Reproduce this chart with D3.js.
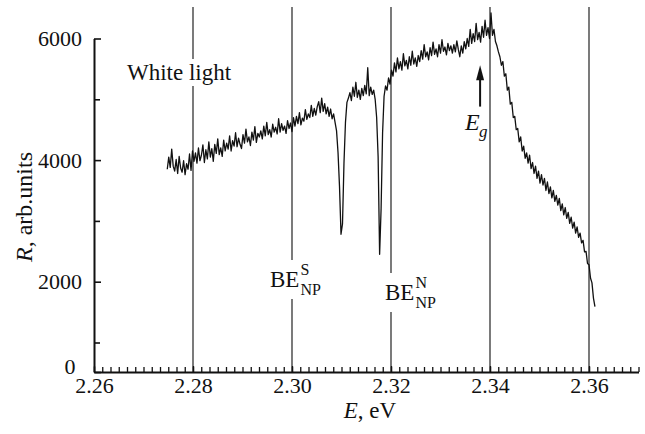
<!DOCTYPE html>
<html>
<head>
<meta charset="utf-8">
<script src="https://cdn.jsdelivr.net/npm/d3@7"></script>
<style>
  body { margin: 0; background: #fff; }
  svg text { font-family: "Liberation Serif", "Times New Roman", Times, "DejaVu Serif", serif !important; fill: #111; }
</style>
</head>
<body>
<svg id="chart" width="645" height="434"></svg>
<script>
// Reflectance spectrum under white light, sampled on a uniform energy grid (eV)
const energyStart = 2.2748;
const energyStep = 0.0003;
const reflectance = [
  3850, 4050, 3880, 4180, 3900, 3820, 4010, 3780, 4060, 3870,
  3800, 3990, 3760, 3940, 3850, 4100, 3830, 4150, 3980, 4120,
  3950, 4200, 3990, 4080, 4250, 3960, 4170, 4020, 4300, 4050,
  4190, 3980, 4260, 4110, 4350, 4090, 4200, 4060, 4330, 4150,
  4280, 4180, 4400, 4150, 4320, 4230, 4450, 4220, 4360, 4260,
  4190, 4420, 4280, 4510, 4300, 4380, 4240, 4460, 4330, 4550,
  4290, 4440, 4380, 4480, 4350, 4560, 4400, 4620, 4420, 4500,
  4380, 4590, 4460, 4540, 4430, 4680, 4460, 4600, 4490, 4560,
  4440, 4650, 4520, 4610, 4470, 4700, 4560, 4720, 4600, 4780,
  4580, 4690, 4640, 4830, 4670, 4760, 4700, 4900, 4720, 4850,
  4740, 4880, 4960, 4780, 5020, 4800, 4930, 4760, 4870, 4720,
  4840, 4680, 4760, 4620, 4480, 4120, 3560, 2780, 2950, 3950,
  4620, 4950, 5020, 5110, 4980, 5200, 5050, 5280, 5030, 5150,
  5000, 5180, 5060, 5230, 5090, 5520, 5060, 5200, 5080, 5150,
  5000, 4700, 4050, 2450, 3200, 4450, 5050, 5220, 5150, 5350,
  5250, 5480, 5380, 5600, 5450, 5680, 5500, 5620, 5480, 5750,
  5550, 5640, 5500, 5700, 5560, 5790, 5580, 5680, 5540, 5720,
  5620, 5800, 5660, 5900, 5700, 5780, 5650, 5850, 5720, 5940,
  5740, 5830, 5700, 5900, 5760, 5980, 5790, 5860, 5730, 5920,
  5800, 5880, 5760, 5900, 5780, 5960, 5820, 5700, 5880, 5760,
  5950, 5830, 6000, 5870, 6150, 5920, 6080, 5950, 6250, 5980,
  6100, 5940, 6200, 6020, 6300, 6050, 6180, 6000, 6420, 6050,
  6150, 5950, 5880, 5780, 5700, 5560, 5620, 5380, 5420, 5150,
  5200, 4920, 4950, 4700, 4720, 4500, 4520, 4300, 4380, 4150,
  4230, 4030, 4120, 3950, 4080, 3860, 3960, 3780, 3900, 3700,
  3820, 3620, 3760, 3590, 3700, 3500, 3640, 3450, 3560, 3380,
  3500, 3320, 3420, 3260, 3370, 3170, 3280, 3100, 3220, 3040,
  3140, 2960, 3060, 2880, 2980, 2800, 2900, 2730, 2800, 2640,
  2680, 2490, 2500, 2300, 2280, 2060, 1980, 1730, 1590
];

const xTicks = [2.26, 2.28, 2.30, 2.32, 2.34, 2.36];
const xTickLabels = ["2.26", "2.28", "2.30", "2.32", "2.34", "2.36"];
const yTicks = [0, 2000, 4000, 6000];
const yMinorTicks = [1000, 3000, 5000];
const markerEnergies = [2.28, 2.30, 2.32, 2.34, 2.36];
const gapArrow = { energy: 2.338, from: 4880, to: 5560 };

const svg = d3.select("#chart");

const x = d3.scaleLinear().domain([2.26, 2.37]).range([94, 638.5]);
// the lowest interval of the R axis is compressed
const y = d3.scaleLinear().domain([0, 1000, 6000]).range([372, 342.5, 38.5]);

const points = reflectance.map((r, i) => ({ e: energyStart + i * energyStep, r }));

// vertical reference lines
svg.append("g").selectAll("line").data(markerEnergies).join("line")
  .attr("x1", d => x(d)).attr("x2", d => x(d))
  .attr("y1", 7).attr("y2", y(0))
  .attr("stroke", "#222").attr("stroke-width", 1.2);

// spectrum
svg.append("path").datum(points)
  .attr("d", d3.line().x(d => x(d.e)).y(d => y(d.r)))
  .attr("fill", "none").attr("stroke", "#111").attr("stroke-width", 1.3)
  .attr("stroke-linejoin", "round");

// x axis: minor ticks, then major ticks with labels
const xMinor = d3.range(0, 67).map(i => 2.26 + i * 0.02 / 12);
svg.append("g").attr("transform", `translate(0,${y(0)})`)
  .call(d3.axisBottom(x).tickValues(xMinor).tickSize(-5).tickSizeOuter(0).tickFormat(""))
  .call(g => g.select(".domain").attr("stroke-width", 2).attr("stroke", "#111"))
  .call(g => g.selectAll(".tick line").attr("stroke", "#111").attr("stroke-width", 1.3));

svg.append("g").attr("transform", `translate(0,${y(0)})`)
  .call(d3.axisBottom(x).tickValues(xTicks).tickSize(-6).tickSizeOuter(0).tickPadding(5)
    .tickFormat((d, i) => xTickLabels[i]))
  .call(g => g.select(".domain").remove())
  .call(g => g.selectAll(".tick line").attr("stroke", "#111").attr("stroke-width", 1.3))
  .call(g => g.selectAll(".tick text").attr("font-size", 22).attr("fill", "#111"));

// y axis
svg.append("g").attr("transform", `translate(${x(2.26)},0)`)
  .call(d3.axisLeft(y).tickValues(yMinorTicks).tickSize(-6).tickSizeOuter(0).tickFormat(""))
  .call(g => g.select(".domain").remove())
  .call(g => g.selectAll(".tick line").attr("stroke", "#111").attr("stroke-width", 1.6));

svg.append("g").attr("transform", `translate(${x(2.26)},0)`)
  .call(d3.axisLeft(y).tickValues(yTicks).tickSize(-7).tickSizeOuter(0).tickPadding(12)
    .tickFormat(d3.format("d")))
  .call(g => g.select(".domain").attr("stroke-width", 2).attr("stroke", "#111"))
  .call(g => g.selectAll(".tick line").attr("stroke", "#111").attr("stroke-width", 1.6))
  .call(g => g.selectAll(".tick text").attr("font-size", 22).attr("fill", "#111")
    .attr("dx", d => d === 0 ? "-0.3em" : 0)
    .attr("dy", d => d === 0 ? "0.05em" : "0.32em"));

// axis titles
const xTitle = svg.append("text").attr("x", 370).attr("y", 418)
  .attr("text-anchor", "middle").attr("font-size", 23);
xTitle.append("tspan").attr("font-style", "italic").text("E");
xTitle.append("tspan").text(", eV");

const yTitle = svg.append("text")
  .attr("transform", "translate(32,207) rotate(-90)")
  .attr("text-anchor", "middle").attr("font-size", 24);
yTitle.append("tspan").attr("font-style", "italic").text("R");
yTitle.append("tspan").text(", arb.units");

// labels on a white backing so the reference lines break around them
function backed(g) {
  const b = g.node().getBBox();
  g.insert("rect", ":first-child")
    .attr("x", b.x - 2).attr("y", b.y - 1)
    .attr("width", b.width + 4).attr("height", b.height + 2)
    .attr("fill", "#fff");
}

const wl = svg.append("g");
wl.append("text").attr("x", 127).attr("y", 80).attr("font-size", 23).text("White light");
backed(wl);

function beLabel(px, py, sup) {
  const g = svg.append("g");
  const main = g.append("text").attr("x", px).attr("y", py).attr("font-size", 23).text("BE");
  const w = main.node().getComputedTextLength();
  g.append("text").attr("x", px + w + 1).attr("y", py - 12).attr("font-size", 16).text(sup);
  g.append("text").attr("x", px + w + 1).attr("y", py + 8).attr("font-size", 16).text("NP");
  backed(g);
}
beLabel(270, 287, "S");
beLabel(385, 300, "N");

// band-gap marker
const ax = x(gapArrow.energy);
svg.append("line").attr("x1", ax).attr("x2", ax)
  .attr("y1", y(gapArrow.from)).attr("y2", y(gapArrow.to) + 12)
  .attr("stroke", "#111").attr("stroke-width", 2);
svg.append("path")
  .attr("d", `M${ax},${y(gapArrow.to)} L${ax - 4},${y(gapArrow.to) + 15} L${ax + 4},${y(gapArrow.to) + 15} Z`)
  .attr("fill", "#111");

const eg = svg.append("g");
eg.append("text").attr("x", 465).attr("y", 130).attr("font-size", 24)
  .attr("font-style", "italic").text("E");
eg.append("text").attr("x", 479).attr("y", 137).attr("font-size", 17)
  .attr("font-style", "italic").text("g");
</script>
</body>
</html>
